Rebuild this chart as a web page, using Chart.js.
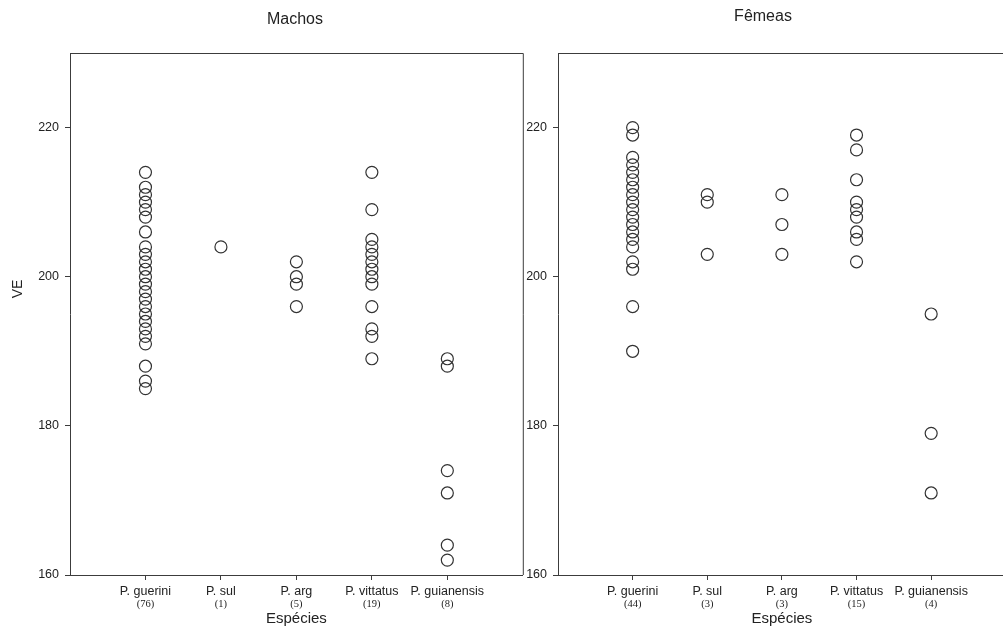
<!DOCTYPE html>
<html>
<head>
<meta charset="utf-8">
<script src="https://cdn.jsdelivr.net/npm/chart.js@4.4.1/dist/chart.umd.min.js"></script>
<style>
  html, body { margin: 0; padding: 0; background: #fff; overflow: hidden; width: 1003px; height: 633px; }
  #wrapM { position: absolute; left: 0; top: 0; }
  #wrapF { position: absolute; left: 488px; top: 0; }
</style>
</head>
<body>
<div id="wrapM"><canvas id="chartM" width="530" height="633"></canvas></div>
<div id="wrapF"><canvas id="chartF" width="525" height="633"></canvas></div>
<script>
// categorias e tamanhos amostrais
const especies = ['P. guerini', 'P. sul', 'P. arg', 'P. vittatus', 'P. guianensis'];
const nMachos = [76, 1, 5, 19, 8];
const nFemeas = [44, 3, 3, 15, 4];
const yTicks = [160, 180, 200, 220];

// VE - machos
const machosGuerini = [214, 212, 211, 210, 209, 208, 206, 204, 203, 202, 201, 200, 199, 198, 197, 196, 195, 194, 193, 192, 191, 188, 186, 185];
const machosSul = [204];
const machosArg = [202, 200, 199, 196];
const machosVittatus = [214, 209, 205, 204, 203, 202, 201, 200, 199, 196, 193, 192, 189];
const machosGuianensis = [189, 188, 174, 171, 164, 162];

// VE - fêmeas
const femeasGuerini = [220, 219, 216, 215, 214, 213, 212, 211, 210, 209, 208, 207, 206, 205, 204, 202, 201, 196, 190];
const femeasSul = [211, 210, 203];
const femeasArg = [211, 207, 203];
const femeasVittatus = [219, 217, 213, 210, 209, 208, 206, 205, 202];
const femeasGuianensis = [195, 179, 171];

const corEixo = '#3c3c3c';
const corTexto = '#222';
const fonteSans = '"Liberation Sans", Arial, sans-serif';
const fonteSerif = '"Liberation Serif", "Times New Roman", serif';

function pontos(grupos) {
  const out = [];
  grupos.forEach((vals, i) => vals.forEach(v => out.push({ x: i + 1, y: v })));
  return out;
}

// caixa do painel, contagens (n) e titulos
const extras = {
  id: 'extras',
  afterDraw(chart, args, opts) {
    const { ctx, chartArea } = chart;
    const xs = chart.scales.x;
    ctx.save();
    ctx.strokeStyle = corEixo;
    ctx.lineWidth = 1;
    ctx.beginPath();
    ctx.moveTo(chartArea.left, chartArea.top + 0.5);
    ctx.lineTo(chartArea.right + 0.5, chartArea.top + 0.5);
    ctx.lineTo(chartArea.right + 0.5, chartArea.bottom);
    ctx.stroke();

    ctx.fillStyle = corTexto;
    ctx.textAlign = 'center';
    ctx.textBaseline = 'middle';
    ctx.font = '10.5px ' + fonteSerif;
    opts.n.forEach((n, i) => {
      ctx.fillText('(' + n + ')', xs.getPixelForValue(i + 1), chartArea.bottom + 29);
    });

    ctx.font = '16px ' + fonteSans;
    ctx.fillText(opts.titulo, opts.tituloX, opts.tituloY);

    if (opts.ve) {
      ctx.translate(18, 289);
      ctx.rotate(-Math.PI / 2);
      ctx.font = '14px ' + fonteSans;
      ctx.fillText('VE', 0, 0);
    }
    ctx.restore();
  }
};

function criar(id, grupos, n, titulo, tituloX, tituloY, ve, padRight) {
  return new Chart(document.getElementById(id), {
    type: 'scatter',
    data: {
      datasets: [{
        data: pontos(grupos),
        pointStyle: 'circle',
        pointRadius: 6,
        pointBorderWidth: 1.2,
        borderColor: '#333',
        backgroundColor: 'rgba(0,0,0,0)'
      }]
    },
    options: {
      responsive: false,
      animation: false,
      layout: { padding: { top: 53, right: padRight, left: 0, bottom: 0 } },
      plugins: {
        legend: { display: false },
        tooltip: { enabled: false },
        extras: { n, titulo, tituloX, tituloY, ve }
      },
      scales: {
        x: {
          type: 'linear',
          min: 0,
          max: 6,
          afterBuildTicks: s => { s.ticks = especies.map((_, i) => ({ value: i + 1 })); },
          afterFit: s => { s.height = 58; },
          ticks: {
            callback: (v, i) => especies[i],
            autoSkip: false,
            maxRotation: 0,
            padding: 4,
            color: corTexto,
            font: { family: fonteSans, size: 12.5 }
          },
          grid: { drawOnChartArea: false, tickLength: 5, color: corEixo },
          border: { color: corEixo, width: 1 },
          title: {
            display: true,
            text: 'Espécies',
            color: corTexto,
            font: { family: fonteSans, size: 15 },
            padding: { top: 0, bottom: 5 }
          }
        },
        y: {
          min: 160,
          max: 230,
          afterBuildTicks: s => { s.ticks = yTicks.map(v => ({ value: v })); },
          afterFit: s => { s.width = 70; },
          ticks: {
            padding: 6,
            color: corTexto,
            font: { family: fonteSans, size: 12.5 }
          },
          grid: { drawOnChartArea: false, tickLength: 5, color: corEixo },
          border: { color: corEixo, width: 1 }
        }
      }
    },
    plugins: [extras]
  });
}

criar('chartM',
  [machosGuerini, machosSul, machosArg, machosVittatus, machosGuianensis],
  nMachos, 'Machos', 295, 20, true, 7);

criar('chartF',
  [femeasGuerini, femeasSul, femeasArg, femeasVittatus, femeasGuianensis],
  nFemeas, 'Fêmeas', 763 - 488, 17, false, 2);
</script>
</body>
</html>
